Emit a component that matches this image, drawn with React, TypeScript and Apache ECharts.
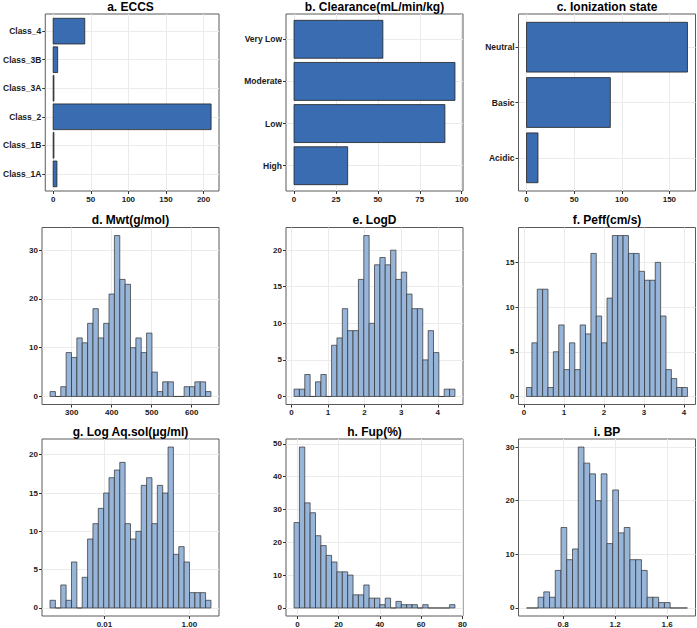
import React, { useEffect, useRef } from "react";
import * as echarts from "echarts";

// ---------- data ----------
const eccsCategories = ["Class_1A", "Class_1B", "Class_2", "Class_3A", "Class_3B", "Class_4"];
const eccsCounts = [5, 1, 210, 1, 6, 42];
const eccsXTicks = [0, 50, 100, 150, 200];

const clearanceCategories = ["High", "Low", "Moderate", "Very Low"];
const clearanceCounts = [32, 90, 96, 53];
const clearanceXTicks = [0, 25, 50, 75, 100];

const ionCategories = ["Acidic", "Basic", "Neutral"];
const ionCounts = [12, 88, 169];
const ionXTicks = [0, 50, 100, 150];

const mwtCounts = [1, 0, 2, 9, 8, 12, 11, 15, 18, 12, 15, 21, 33, 24, 23, 10, 12, 9, 13, 5, 1, 3, 3, 0, 0, 2, 2, 3, 3, 1];
const mwtBinStart = 246;
const mwtBinWidth = 13.4;
const mwtXTicks = [300, 400, 500, 600];
const mwtYTicks = [0, 10, 20, 30];

const logdCounts = [1, 1, 3, 0, 2, 3, 0, 7, 8, 12, 9, 9, 16, 22, 10, 18, 19, 18, 20, 16, 17, 14, 12, 12, 5, 9, 6, 0, 1, 1];
const logdBinStart = 0.072;
const logdBinWidth = 0.1466;
const logdXTicks = [0, 1, 2, 3, 4];
const logdYTicks = [0, 5, 10, 15, 20];

const peffCounts = [1, 6, 12, 12, 1, 5, 8, 3, 6, 3, 8, 7, 16, 9, 6, 11, 18, 18, 18, 16, 16, 14, 13, 13, 15, 9, 3, 2, 1, 1];
const peffBinStart = 0.067;
const peffBinWidth = 0.134;
const peffXTicks = [0, 1, 2, 3, 4];
const peffYTicks = [0, 5, 10, 15];

// log10 of solubility
const solCounts = [1, 0, 3, 1, 6, 0, 4, 9, 11, 13, 15, 17, 18, 19, 11, 9, 10, 16, 17, 11, 16, 15, 21, 7, 8, 6, 2, 2, 2, 1];
const solBinStart = -3.281;
const solBinWidth = 0.1263;
const solXTicks = [-2, 0];
const solXTickLabels = ["0.01", "1.00"];
const solYTicks = [0, 5, 10, 15, 20];

const fupCounts = [26, 49, 32, 29, 22, 19, 16, 14, 11, 11, 10, 4, 4, 7, 3, 3, 1, 3, 0, 2, 1, 1, 1, 0, 1, 0, 0, 0, 0, 1];
const fupBinStart = -1.6;
const fupBinWidth = 2.6;
const fupXTicks = [0, 20, 40, 60, 80];
const fupYTicks = [0, 10, 20, 30, 40, 50];

const bpCounts = [0, 0, 2, 3, 2, 7, 15, 9, 11, 30, 27, 25, 20, 25, 12, 22, 14, 15, 9, 9, 7, 2, 2, 1, 1, 0, 0, 0];
const bpBinStart = 0.519;
const bpBinWidth = 0.0442;
const bpXTicks = [0.8, 1.2, 1.6];
const bpYTicks = [0, 10, 20, 30];

// ---------- layout / style ----------
const FONT = "'Liberation Sans', Arial, Helvetica, sans-serif";
const colLefts = [42, 286, 518.5];
const rowTops = [14, 227.5, 439];
const PW = 177;
const PH = 177;

type BarPanel = {
  kind: "bar"; title: string; cats: string[]; values: number[];
  xMin: number; xMax: number; xTicks: number[];
};
type HistPanel = {
  kind: "hist"; title: string; counts: number[]; start: number; width: number;
  xMin: number; xMax: number; xTicks: number[]; xLabels?: string[];
  yMin: number; yMax: number; yTicks: number[];
};
type Panel = BarPanel | HistPanel;

const panels: Panel[] = [
  { kind: "bar", title: "a. ECCS", cats: eccsCategories, values: eccsCounts, xMin: -10.5, xMax: 220.5, xTicks: eccsXTicks },
  { kind: "bar", title: "b. Clearance(mL/min/kg)", cats: clearanceCategories, values: clearanceCounts, xMin: -4.8, xMax: 100.8, xTicks: clearanceXTicks },
  { kind: "bar", title: "c. Ionization state", cats: ionCategories, values: ionCounts, xMin: -8.45, xMax: 177.45, xTicks: ionXTicks },
  { kind: "hist", title: "d. Mwt(g/mol)", counts: mwtCounts, start: mwtBinStart, width: mwtBinWidth, xMin: 225.9, xMax: 668.1, xTicks: mwtXTicks, yMin: -1.65, yMax: 34.65, yTicks: mwtYTicks },
  { kind: "hist", title: "e. LogD", counts: logdCounts, start: logdBinStart, width: logdBinWidth, xMin: -0.148, xMax: 4.69, xTicks: logdXTicks, yMin: -1.1, yMax: 23.1, yTicks: logdYTicks },
  { kind: "hist", title: "f. Peff(cm/s)", counts: peffCounts, start: peffBinStart, width: peffBinWidth, xMin: -0.134, xMax: 4.288, xTicks: peffXTicks, yMin: -0.9, yMax: 18.9, yTicks: peffYTicks },
  { kind: "hist", title: "g. Log Aq.sol(μg/ml)", counts: solCounts, start: solBinStart, width: solBinWidth, xMin: -3.47, xMax: 0.697, xTicks: solXTicks, xLabels: solXTickLabels, yMin: -1.05, yMax: 22.05, yTicks: solYTicks },
  { kind: "hist", title: "h. Fup(%)", counts: fupCounts, start: fupBinStart, width: fupBinWidth, xMin: -5.5, xMax: 80.3, xTicks: fupXTicks, yMin: -2.45, yMax: 51.45, yTicks: fupYTicks },
  { kind: "hist", title: "i. BP", counts: bpCounts, start: bpBinStart, width: bpBinWidth, xMin: 0.457, xMax: 1.819, xTicks: bpXTicks, yMin: -1.5, yMax: 31.5, yTicks: bpYTicks },
];

const BAR_FILL = "#3a6cb1";
const BAR_STROKE = "#222222";
const HIST_FILL = "#97b4d9";
const HIST_STROKE = "#2e2e2e";

function buildOption() {
  const grid: any[] = [];
  const xAxis: any[] = [];
  const yAxis: any[] = [];
  const series: any[] = [];
  const graphic: any[] = [];

  const axisCommon = {
    axisLine: { show: false, onZero: false },
    axisTick: { show: true, length: 3, lineStyle: { color: "#333333", width: 1 } },
    splitLine: { show: true, lineStyle: { color: "#ebebeb", width: 1 } },
  };
  const numLabel = {
    fontFamily: FONT, fontWeight: "bold", fontSize: 8, color: "#1a1a1a", margin: 4,
    showMinLabel: true, showMaxLabel: true,
  };

  panels.forEach((p, i) => {
    const left = colLefts[i % 3];
    const top = rowTops[Math.floor(i / 3)];
    grid.push({
      left, top, width: PW, height: PH, show: true,
      borderColor: "#5a5a5a", borderWidth: 1, backgroundColor: "#ffffff", containLabel: false,
    });
    graphic.push({
      type: "text", x: left + PW / 2, y: top - 7.5,
      style: { text: p.title, align: "center", verticalAlign: "middle", font: `bold 12px ${FONT}`, fill: "#000000" },
    });

    const xLabels = (p as HistPanel).xLabels;
    const xTicks = p.xTicks;
    xAxis.push({
      type: "value", gridIndex: i, min: p.xMin, max: p.xMax,
      ...axisCommon,
      axisTick: { ...axisCommon.axisTick, customValues: xTicks },
      axisLabel: {
        ...numLabel, customValues: xTicks,
        formatter: (v: number) => {
          if (xLabels) {
            const k = xTicks.findIndex((t) => Math.abs(t - v) < 1e-9);
            return k >= 0 ? xLabels[k] : "";
          }
          return String(Math.round(v * 100) / 100);
        },
      },
    });

    if (p.kind === "bar") {
      const n = p.cats.length;
      const idx = p.cats.map((_, k) => k + 1);
      const cats = p.cats;
      yAxis.push({
        type: "value", gridIndex: i, min: 0.4, max: n + 0.6,
        ...axisCommon,
        axisTick: { ...axisCommon.axisTick, customValues: idx },
        axisLabel: {
          ...numLabel, fontSize: 8.5, customValues: idx,
          formatter: (v: number) => cats[Math.round(v) - 1] ?? "",
        },
      });
      series.push({
        type: "custom", xAxisIndex: i, yAxisIndex: i, silent: true,
        encode: { x: 0, y: 1 },
        data: p.values.map((v, k) => [v, k + 1]),
        renderItem: (_params: any, api: any) => {
          const v = api.value(0);
          const c = api.value(1);
          const p0 = api.coord([0, c - 0.45]);
          const p1 = api.coord([v, c + 0.45]);
          return {
            type: "rect",
            shape: { x: p0[0], y: p1[1], width: p1[0] - p0[0], height: p0[1] - p1[1] },
            style: { fill: BAR_FILL, stroke: BAR_STROKE, lineWidth: 0.8 },
          };
        },
      });
    } else {
      yAxis.push({
        type: "value", gridIndex: i, min: p.yMin, max: p.yMax,
        ...axisCommon,
        axisTick: { ...axisCommon.axisTick, customValues: p.yTicks },
        axisLabel: { ...numLabel, customValues: p.yTicks, formatter: (v: number) => String(Math.round(v)) },
      });
      series.push({
        type: "custom", xAxisIndex: i, yAxisIndex: i, silent: true,
        encode: { x: [0, 1], y: 2 },
        data: p.counts.map((c, k) => [p.start + k * p.width, p.start + (k + 1) * p.width, c]),
        renderItem: (_params: any, api: any) => {
          const x0 = api.value(0);
          const x1 = api.value(1);
          const c = api.value(2);
          const p0 = api.coord([x0, 0]);
          const p1 = api.coord([x1, c]);
          return {
            type: "rect",
            shape: { x: p0[0], y: p1[1], width: p1[0] - p0[0], height: p0[1] - p1[1] },
            style: { fill: HIST_FILL, stroke: HIST_STROKE, lineWidth: 0.7 },
          };
        },
      });
    }
  });

  return {
    animation: false,
    backgroundColor: "#ffffff",
    textStyle: { fontFamily: FONT },
    grid, xAxis, yAxis, series, graphic,
  };
}

export default function App() {
  const ref = useRef<HTMLDivElement>(null);
  useEffect(() => {
    if (!ref.current) return;
    const chart = echarts.init(ref.current, undefined, { renderer: "svg" });
    chart.setOption(buildOption() as any);
    return () => chart.dispose();
  }, []);
  return (
    <div
      ref={ref}
      style={{ position: "absolute", left: 0, top: 0, width: 697, height: 628, background: "#fff" }}
    />
  );
}
